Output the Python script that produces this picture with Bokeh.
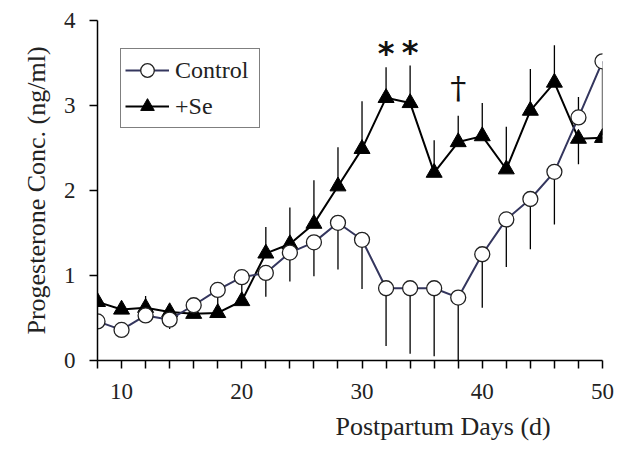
from bokeh.plotting import figure
from bokeh.models import (ColumnDataSource, FixedTicker, Legend, LegendItem, Title)
from bokeh.core.properties import value
from bokeh.embed import file_html
from bokeh.resources import INLINE

# ---- data ----
days = [8, 10, 12, 14, 16, 18, 20, 22, 24, 26, 28, 30, 32, 34, 36, 38, 40, 42, 44, 46, 48, 50]
control = [0.46, 0.36, 0.53, 0.48, 0.65, 0.83, 0.98, 1.03, 1.27, 1.39, 1.62, 1.42,
           0.85, 0.85, 0.85, 0.74, 1.25, 1.66, 1.90, 2.22, 2.86, 3.52]
control_err_end = [float("nan"), float("nan"), float("nan"), 0.37, float("nan"), 0.58, 0.74,
                   0.75, 0.93, 0.99, 1.07, 0.84, 0.17, 0.08, 0.05, 0.0, 0.62, 1.10, 1.31,
                   1.60, 3.10, 2.65]
se = [0.69, 0.60, 0.62, 0.57, 0.55, 0.56, 0.70, 1.26, 1.37, 1.61, 2.05, 2.49,
      3.09, 3.03, 2.21, 2.57, 2.64, 2.25, 2.94, 3.27, 2.61, 2.62]
se_err_end = [float("nan"), float("nan"), 0.76, float("nan"), float("nan"), float("nan"), float("nan"),
              1.57, 1.80, 2.12, 2.51, 3.05, 3.45, 3.47, 2.59, 2.88, 3.03, 2.75, 3.43,
              3.71, 2.31, float("nan")]
sig_days = [32, 34]
sig_marks = ["*", "*"]
trend_days = [38]
trend_marks = ["\u2020"]
x_ticks = list(range(8, 51, 2))
x_labels = {t: (str(t) if t % 10 == 0 else "") for t in x_ticks}
y_ticks = [0, 1, 2, 3, 4]
x_title = "Postpartum Days (d)"
y_title = "Progesterone Conc. (ng/ml)"

FONT = "Liberation Serif"
NAVY = "#34365e"

src = ColumnDataSource(dict(day=days, control=control, cerr=control_err_end,
                            se=se, serr=se_err_end))
se_lookup = dict(zip(days, se_err_end))
sig_src = ColumnDataSource(dict(day=sig_days, y=[se_lookup[d] for d in sig_days], t=sig_marks))
tr_src = ColumnDataSource(dict(day=trend_days, y=[se_lookup[d] for d in trend_days], t=trend_marks))

p = figure(width=619, height=454, x_range=(8, 50), y_range=(0, 4),
           output_backend="svg", toolbar_location=None,
           min_border_left=97, min_border_right=17, min_border_top=20, min_border_bottom=94)
p.outline_line_color = None
p.grid.visible = False
p.background_fill_color = "white"

# error bars
p.segment(x0="day", y0="control", x1="day", y1="cerr", source=src, line_color="black", line_width=1.3)
p.segment(x0="day", y0="se", x1="day", y1="serr", source=src, line_color="black", line_width=1.3)

# series
l_se = p.line("day", "se", source=src, line_color="black", line_width=2)
m_se = p.scatter("day", "se", source=src, marker="triangle", size=16,
                 fill_color="black", line_color="black")
l_c = p.line("day", "control", source=src, line_color=NAVY, line_width=2)
m_c = p.scatter("day", "control", source=src, marker="circle", size=15,
                fill_color="white", line_color="#222222", line_width=1.3)

# significance marks
p.text("day", "y", text="t", source=sig_src, text_font=value("DejaVu Sans"),
       text_font_size="32px", text_font_style="bold", text_align="center",
       text_baseline="middle", y_offset=-14, text_color="#111111")
p.text("day", "y", text="t", source=tr_src, text_font=value("DejaVu Serif"),
       text_font_size="32px", text_align="center",
       text_baseline="middle", y_offset=-28, text_color="#111111")

# axes
for ax in (p.xaxis[0], p.yaxis[0]):
    ax.axis_line_width = 1.5
    ax.axis_line_color = "black"
    ax.major_tick_line_width = 1.5
    ax.major_tick_line_color = "black"
    ax.major_tick_out = 8
    ax.major_tick_in = 0
    ax.minor_tick_line_color = None
    ax.major_label_text_font = FONT
    ax.major_label_text_font_size = "23px"
    ax.major_label_text_color = "#222222"
    ax.axis_label_text_font = FONT
    ax.axis_label_text_font_size = "26px"
    ax.axis_label_text_font_style = "normal"
    ax.axis_label_text_color = "#222222"

p.xaxis.ticker = FixedTicker(ticks=x_ticks)
p.xaxis.major_label_overrides = x_labels
p.xaxis.major_label_standoff = 15
p.yaxis.ticker = FixedTicker(ticks=y_ticks)
p.yaxis.major_label_standoff = 14
p.yaxis.axis_label = y_title
p.yaxis.axis_label_standoff = 10

xt = Title(text=x_title, align="left", offset=238, standoff=17,
           text_font=FONT, text_font_size="26px", text_font_style="normal",
           text_color="#222222")
p.add_layout(xt, "below")

legend = Legend(items=[LegendItem(label="Control", renderers=[l_c, m_c]),
                       LegendItem(label="+Se", renderers=[l_se, m_se])],
                location=(23, 232), orientation="vertical",
                label_text_font=FONT, label_text_font_size="24px", label_text_color="#222222",
                glyph_width=44, glyph_height=34, label_height=34, spacing=2,
                padding=4, margin=0, label_standoff=6, label_width=80,
                border_line_color="black", border_line_width=1.2,
                background_fill_alpha=1.0)
p.add_layout(legend, "center")

open("out.html", "w").write(file_html(p, INLINE))
